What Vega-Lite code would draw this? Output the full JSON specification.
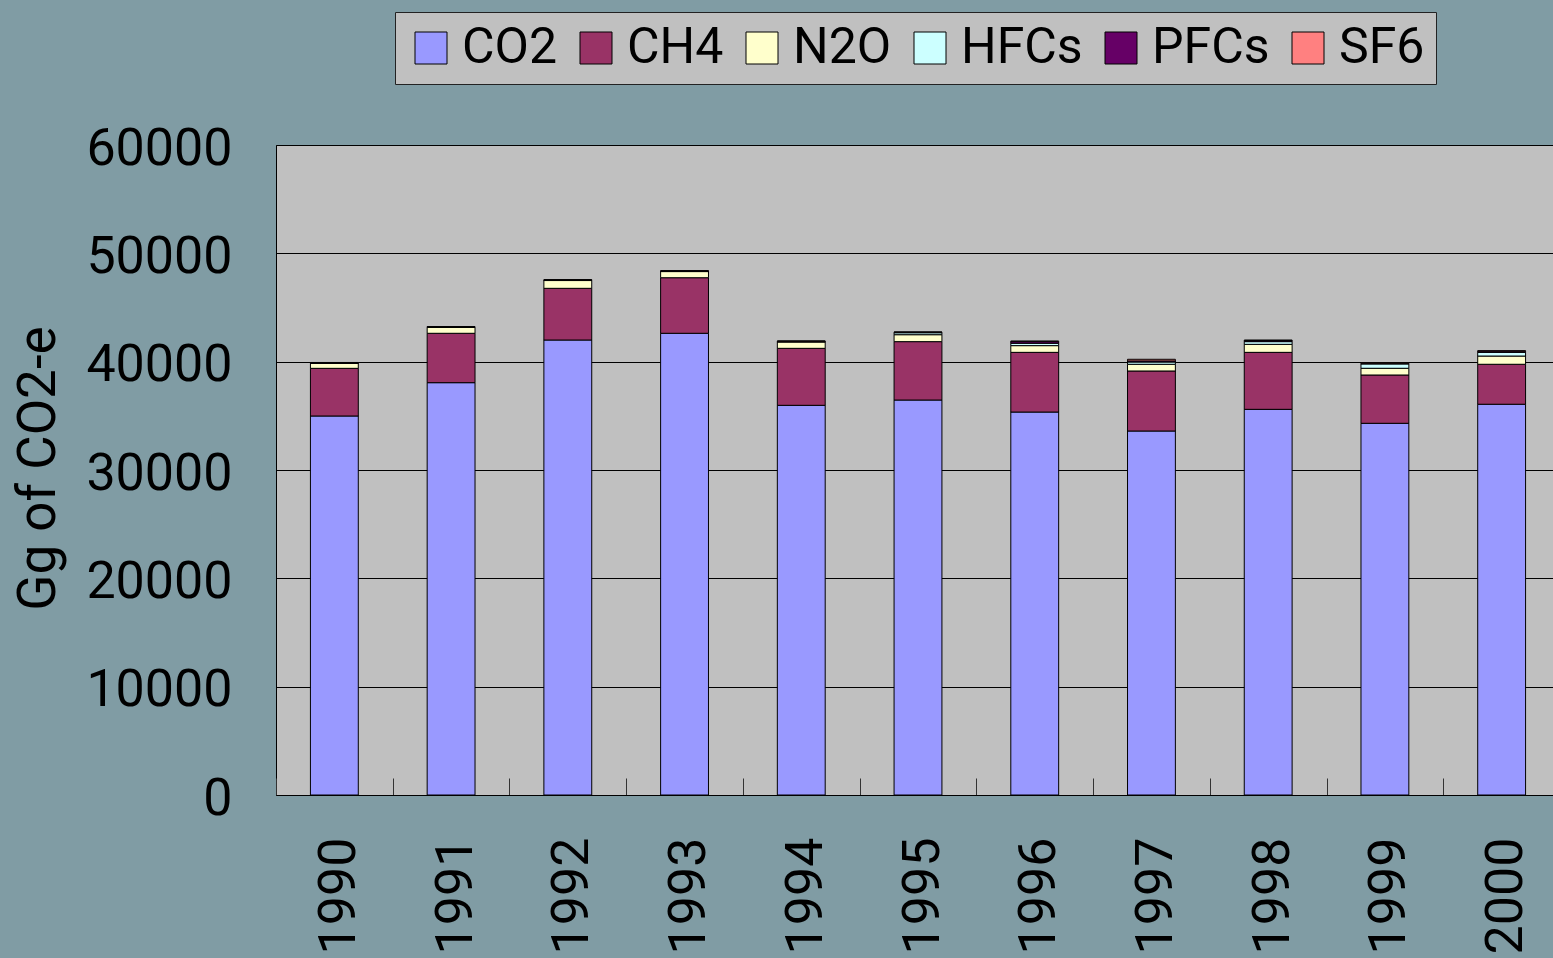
{
  "$schema": "https://vega.github.io/schema/vega-lite/v6.json",
  "autosize": {"type": "none"},
  "padding": {"left": 276, "top": 145, "right": 0, "bottom": 163},
  "width": 1284,
  "height": 650,
  "background": "#809ca4",
  "config": {
    "font": "Roboto",
    "view": {"fill": "#c0c0c0", "stroke": "#000000", "strokeWidth": 1}
  },
  "data": {
    "values": [
      {"year": "1990", "gas": "CO2", "value": 34985}, {"year": "1990", "gas": "CH4", "value": 4400}, {"year": "1990", "gas": "N2O", "value": 460}, {"year": "1990", "gas": "HFCs", "value": 0}, {"year": "1990", "gas": "PFCs", "value": 60}, {"year": "1990", "gas": "SF6", "value": 20},
      {"year": "1991", "gas": "CO2", "value": 38060}, {"year": "1991", "gas": "CH4", "value": 4560}, {"year": "1991", "gas": "N2O", "value": 540}, {"year": "1991", "gas": "HFCs", "value": 0}, {"year": "1991", "gas": "PFCs", "value": 60}, {"year": "1991", "gas": "SF6", "value": 20},
      {"year": "1992", "gas": "CO2", "value": 42000}, {"year": "1992", "gas": "CH4", "value": 4770}, {"year": "1992", "gas": "N2O", "value": 720}, {"year": "1992", "gas": "HFCs", "value": 0}, {"year": "1992", "gas": "PFCs", "value": 60}, {"year": "1992", "gas": "SF6", "value": 20},
      {"year": "1993", "gas": "CO2", "value": 42620}, {"year": "1993", "gas": "CH4", "value": 5130}, {"year": "1993", "gas": "N2O", "value": 570}, {"year": "1993", "gas": "HFCs", "value": 0}, {"year": "1993", "gas": "PFCs", "value": 60}, {"year": "1993", "gas": "SF6", "value": 20},
      {"year": "1994", "gas": "CO2", "value": 35970}, {"year": "1994", "gas": "CH4", "value": 5260}, {"year": "1994", "gas": "N2O", "value": 600}, {"year": "1994", "gas": "HFCs", "value": 0}, {"year": "1994", "gas": "PFCs", "value": 60}, {"year": "1994", "gas": "SF6", "value": 20},
      {"year": "1995", "gas": "CO2", "value": 36460}, {"year": "1995", "gas": "CH4", "value": 5390}, {"year": "1995", "gas": "N2O", "value": 640}, {"year": "1995", "gas": "HFCs", "value": 180}, {"year": "1995", "gas": "PFCs", "value": 50}, {"year": "1995", "gas": "SF6", "value": 20},
      {"year": "1996", "gas": "CO2", "value": 35350}, {"year": "1996", "gas": "CH4", "value": 5510}, {"year": "1996", "gas": "N2O", "value": 620}, {"year": "1996", "gas": "HFCs", "value": 220}, {"year": "1996", "gas": "PFCs", "value": 150}, {"year": "1996", "gas": "SF6", "value": 60},
      {"year": "1997", "gas": "CO2", "value": 33600}, {"year": "1997", "gas": "CH4", "value": 5540}, {"year": "1997", "gas": "N2O", "value": 620}, {"year": "1997", "gas": "HFCs", "value": 210}, {"year": "1997", "gas": "PFCs", "value": 100}, {"year": "1997", "gas": "SF6", "value": 150},
      {"year": "1998", "gas": "CO2", "value": 35600}, {"year": "1998", "gas": "CH4", "value": 5260}, {"year": "1998", "gas": "N2O", "value": 740}, {"year": "1998", "gas": "HFCs", "value": 250}, {"year": "1998", "gas": "PFCs", "value": 100}, {"year": "1998", "gas": "SF6", "value": 50},
      {"year": "1999", "gas": "CO2", "value": 34310}, {"year": "1999", "gas": "CH4", "value": 4460}, {"year": "1999", "gas": "N2O", "value": 620}, {"year": "1999", "gas": "HFCs", "value": 400}, {"year": "1999", "gas": "PFCs", "value": 70}, {"year": "1999", "gas": "SF6", "value": 40},
      {"year": "2000", "gas": "CO2", "value": 36070}, {"year": "2000", "gas": "CH4", "value": 3690}, {"year": "2000", "gas": "N2O", "value": 760}, {"year": "2000", "gas": "HFCs", "value": 340}, {"year": "2000", "gas": "PFCs", "value": 110}, {"year": "2000", "gas": "SF6", "value": 40}
    ]
  },
  "transform": [
    {"calculate": "indexof(['CO2','CH4','N2O','HFCs','PFCs','SF6'], datum.gas)", "as": "ord"}
  ],
  "mark": {"type": "bar", "stroke": "#000000", "strokeWidth": 1, "width": {"band": 0.41}},
  "encoding": {
    "x": {
      "field": "year",
      "type": "ordinal",
      "scale": {"paddingInner": 0, "paddingOuter": 0},
      "axis": {
        "title": null,
        "labelAngle": -90,
        "labelFontSize": 52,
        "labelColor": "#000000",
        "labelPadding": 59,
        "labelOffset": 4,
        "tickBand": "extent",
        "tickSize": -17,
        "tickColor": "#333333",
        "tickWidth": 1,
        "domainColor": "#000000",
        "domainWidth": 1,
        "grid": false
      }
    },
    "y": {
      "field": "value",
      "type": "quantitative",
      "stack": "zero",
      "scale": {"domain": [0, 60000], "nice": false},
      "axis": {
        "title": "Gg of CO2-e",
        "titleFontSize": 53,
        "titleFontWeight": "normal",
        "titleColor": "#000000",
        "titleAngle": -90,
        "titleX": -238,
        "titleY": 323,
        "titleAlign": "center",
        "titleBaseline": "middle",
        "values": [0, 10000, 20000, 30000, 40000, 50000, 60000],
        "format": "d",
        "labelFontSize": 52,
        "labelColor": "#000000",
        "labelPadding": 44,
        "labelOffset": 3,
        "ticks": false,
        "domain": false,
        "grid": true,
        "gridColor": "#000000",
        "gridWidth": 1
      }
    },
    "color": {
      "field": "gas",
      "type": "nominal",
      "scale": {
        "domain": ["CO2", "CH4", "N2O", "HFCs", "PFCs", "SF6"],
        "range": ["#9999ff", "#993366", "#ffffcc", "#ccffff", "#660066", "#ff8080"]
      },
      "legend": {
        "title": null,
        "orient": "none",
        "legendX": 119,
        "legendY": -133,
        "direction": "horizontal",
        "columns": 6,
        "fillColor": "#c0c0c0",
        "strokeColor": "#222222",
        "padding": 11,
        "symbolType": "square",
        "symbolSize": 1024,
        "symbolStrokeColor": "#000000",
        "symbolStrokeWidth": 1,
        "symbolOpacity": 1,
        "labelFontSize": 50,
        "labelColor": "#000000",
        "labelOffset": 6,
        "columnPadding": 13,
        "labelLimit": 400
      }
    },
    "order": {"field": "ord", "type": "quantitative", "sort": "ascending"}
  }
}
